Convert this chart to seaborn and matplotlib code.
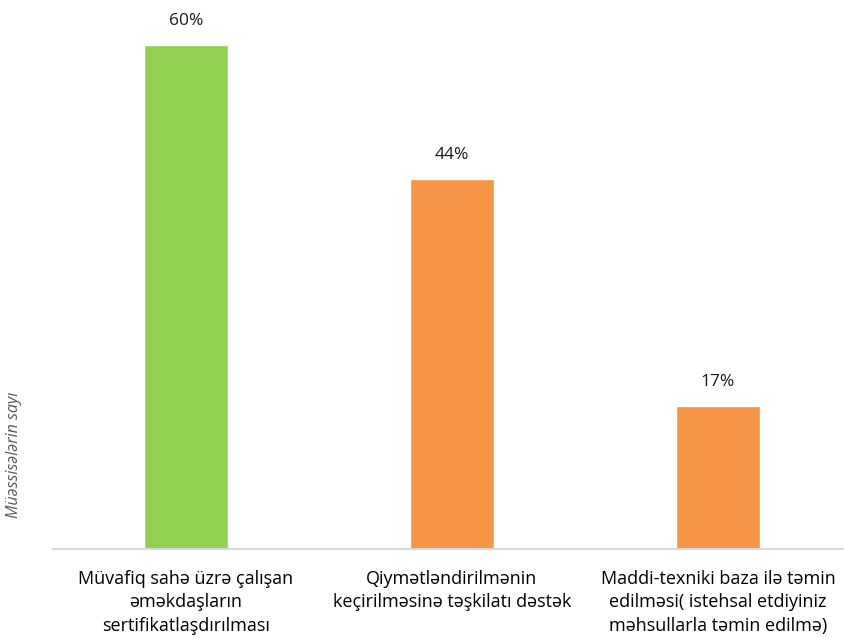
import seaborn as sns
import matplotlib.pyplot as plt
import pandas as pd

sns.set_style("white")
plt.rcParams['font.family'] = ['Open Sans', 'DejaVu Sans']

categories = [
    "Müvafiq sahə üzrə çalışan\nəməkdaşların\nsertifikatlaşdırılması",
    "Qiymətləndirilmənin\nkeçirilməsinə təşkilatı dəstək",
    "Maddi-texniki baza ilə təmin\nedilməsi( istehsal etdiyiniz\nməhsullarla təmin edilmə)",
]
values = [60, 44, 17]
labels = ["60%", "44%", "17%"]
colors = ["#92d050", "#f79646", "#f79646"]

df = pd.DataFrame({"cat": categories, "val": values})

fig = plt.figure(figsize=(8.44, 6.38), dpi=100)
ax = fig.add_axes([53 / 844, (638 - 549) / 638, 791 / 844, 544 / 638])

sns.barplot(data=df, x="cat", y="val", hue="cat", palette=colors,
            width=0.315, legend=False, ax=ax, saturation=1)

for i, (v, t) in enumerate(zip(values, labels)):
    ax.text(i, v + 1.9, t, ha="center", va="bottom", fontsize=12.5, color="#1a1a1a")

ax.set_xlim(-0.5, 2.474)
ax.set_ylim(0, 64.7)
ax.set_yticks([])
ax.set_xlabel("")
ax.set_ylabel("")
for s in ["top", "right", "left"]:
    ax.spines[s].set_visible(False)
ax.spines["bottom"].set_color("#d9d9d9")
ax.spines["bottom"].set_linewidth(1.5)
ax.tick_params(axis="x", length=0, pad=15, labelsize=13, labelcolor="#000000")
for lab in ax.get_xticklabels():
    lab.set_linespacing(1.4)

fig.text(14 / 844, 1 - 455 / 638, "Müəssisələrin sayı", rotation=90, ha="center",
         va="center", fontsize=11.5, style="italic", color="#595959")

fig.savefig("out.png", dpi=100)
